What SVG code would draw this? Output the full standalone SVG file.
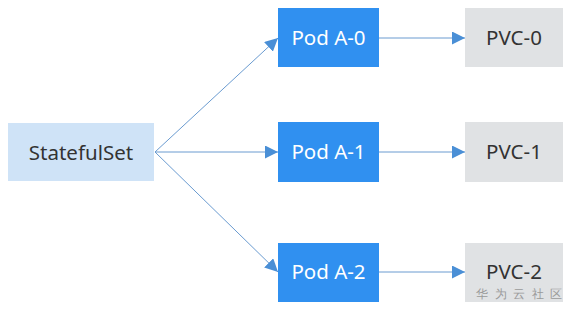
<svg xmlns="http://www.w3.org/2000/svg" width="573" height="314" viewBox="0 0 573 314">
<style>
text{font-family:"Noto Sans","Open Sans","Liberation Sans",sans-serif;font-size:20.5px;text-anchor:middle;dominant-baseline:central}
.pod rect{fill:#3090f0}
.pod text{fill:#ffffff}
.pvc rect{fill:#e0e2e4}
.pvc text{fill:#333333}
.conn line{stroke:#6a9bd0;stroke-width:1;fill:none}
.wm{font-size:12px;fill:#9a9a9a;letter-spacing:6.5px;text-anchor:start}
</style>
<defs>
<marker id="ah" viewBox="0 0 10 10" refX="10" refY="5" markerWidth="13" markerHeight="13" markerUnits="userSpaceOnUse" orient="auto">
<path d="M0,0 L10,5 L0,10 z" fill="#4a8fd6"/>
</marker>
</defs>
<rect width="573" height="314" fill="#ffffff"/>
<g class="conn">
<line x1="155" y1="152" x2="278" y2="38" marker-end="url(#ah)"/>
<line x1="155" y1="152" x2="278" y2="152" marker-end="url(#ah)"/>
<line x1="155" y1="152" x2="278" y2="272" marker-end="url(#ah)"/>
<line x1="379" y1="38" x2="465" y2="38" marker-end="url(#ah)"/>
<line x1="379" y1="152" x2="465" y2="152" marker-end="url(#ah)"/>
<line x1="379" y1="272" x2="465" y2="272" marker-end="url(#ah)"/>
</g>
<g id="statefulset">
<rect x="8" y="123" width="146" height="58" fill="#cfe3f7"/>
<text x="81" y="152" fill="#333333" font-size="20">StatefulSet</text>
</g>
<g id="pod-a-0" class="pod">
<rect x="278" y="8" width="101" height="59"/>
<text x="328.5" y="37">Pod A-0</text>
</g>
<g id="pod-a-1" class="pod">
<rect x="278" y="122" width="101" height="60"/>
<text x="328.5" y="151">Pod A-1</text>
</g>
<g id="pod-a-2" class="pod">
<rect x="278" y="243" width="101" height="59"/>
<text x="328.5" y="271">Pod A-2</text>
</g>
<g id="pvc-0" class="pvc">
<rect x="465" y="8" width="98" height="59"/>
<text x="514" y="37">PVC-0</text>
</g>
<g id="pvc-1" class="pvc">
<rect x="465" y="122" width="98" height="60"/>
<text x="514" y="151">PVC-1</text>
</g>
<g id="pvc-2" class="pvc">
<rect x="465" y="243" width="98" height="59"/>
<text x="514" y="271">PVC-2</text>
</g>
<text class="wm" x="476" y="293" font-family="'Noto Sans CJK SC',sans-serif">华为云社区</text>
</svg>
